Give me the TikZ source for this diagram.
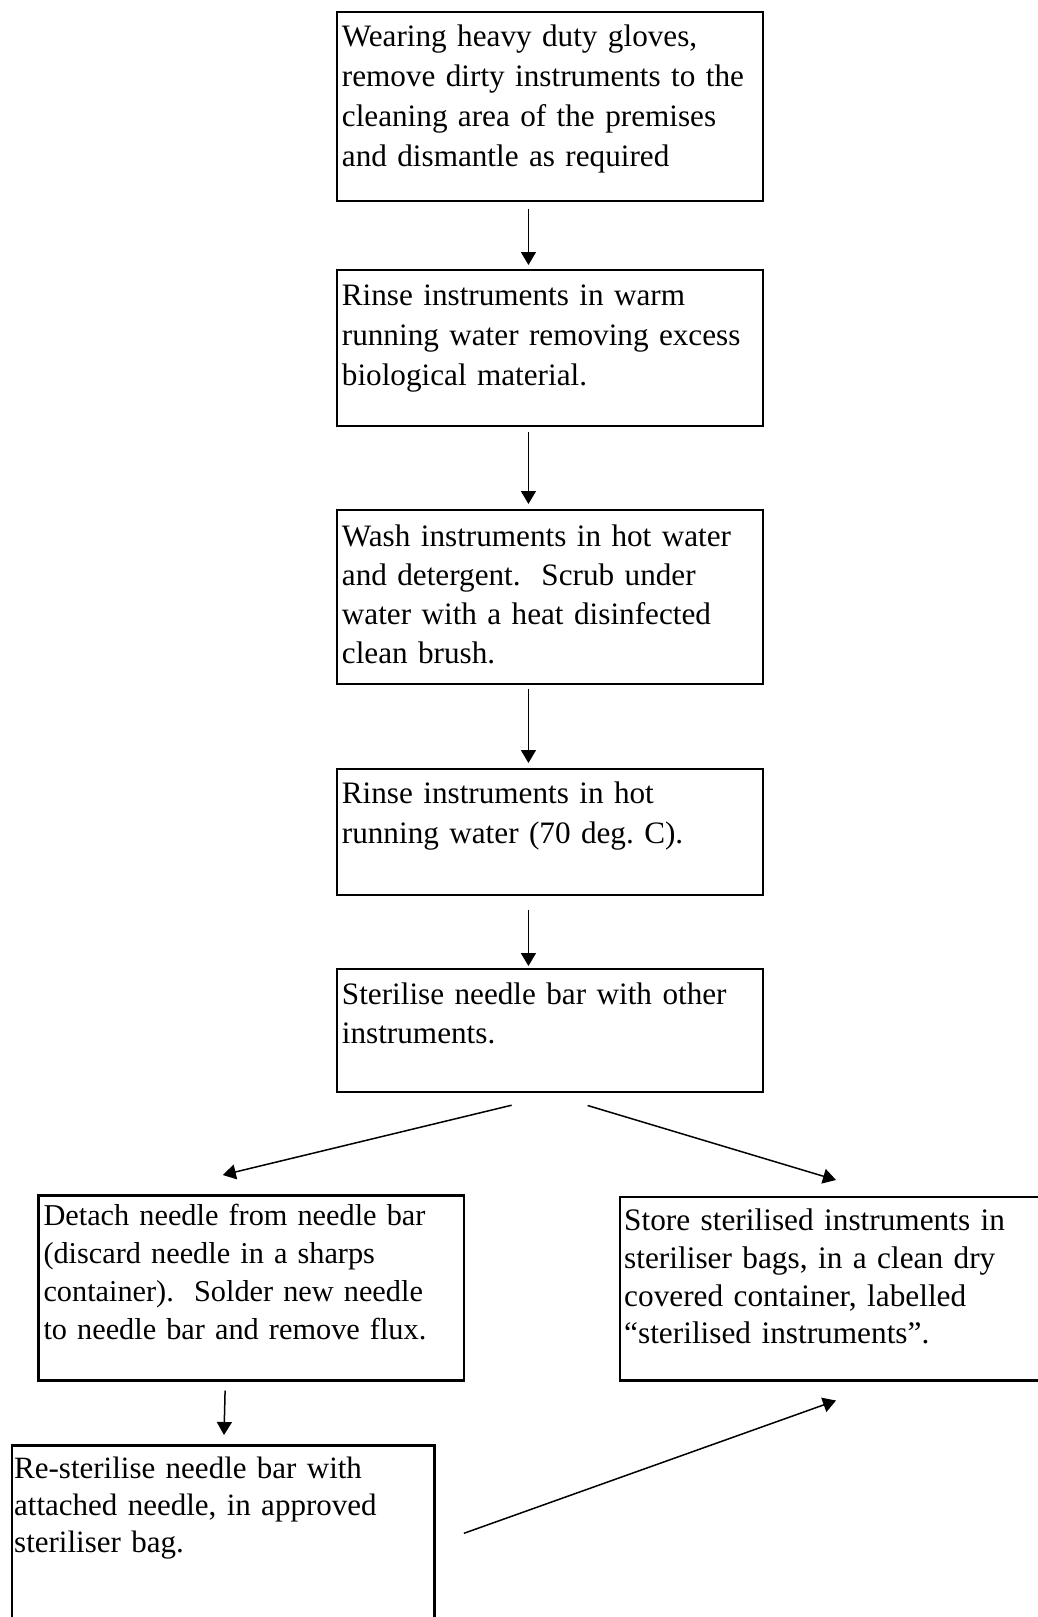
\documentclass[tikz,border=0pt]{standalone}
\usepackage{fontspec}
\setmainfont{Liberation Serif}
\usetikzlibrary{arrows.meta}
\frenchspacing
\tikzset{
  box/.style={draw=black, line width=2.2pt, inner sep=0pt, anchor=north west},
  txt/.style={inner sep=0pt, anchor=base west, text width=440pt, align=left},
  bigtxt/.style={txt, font=\fontsize{31.2}{40}\selectfont},
  smalltxt/.style={txt, font=\fontsize{30.8}{37.7}\selectfont},
  arr/.style={draw=black, line width=1.5pt, -{Triangle[length=13pt,width=15pt]}}
}
\begin{document}
\begin{tikzpicture}[x=1pt,y=-1pt]
\path[use as bounding box] (0,0) rectangle (1038,1617);
\fill[white] (0,0) rectangle (1038,1617);
\clip (0,0) rectangle (1038,1617);
% boxes
\node[box, minimum width=425.7pt, minimum height=189pt] (b1) at (336,11) {};
\node[box, minimum width=425.7pt, minimum height=156.3pt] (b2) at (336,268.7) {};
\node[box, minimum width=425.7pt, minimum height=174pt] (b3) at (336,509) {};
\node[box, minimum width=425.7pt, minimum height=126pt] (b4) at (336,768) {};
\node[box, minimum width=425.7pt, minimum height=123pt] (b5) at (336,968) {};
\node[box, minimum width=425.4pt, minimum height=185pt] (b6) at (37.3,1194.3) {};
\node[box, minimum width=422.3pt, minimum height=200pt] (b7) at (11,1444.3) {};
\node[box, minimum width=445pt, minimum height=183.3pt] (b8) at (619,1196) {};
% texts
\node[bigtxt] (t1) at (341.7,46.7) {Wearing heavy duty gloves,\\remove dirty instruments to the\\cleaning area of the premises\\and dismantle as required};
\node[bigtxt] (t2) at (341.7,305) {Rinse instruments in warm\\running water removing excess\\biological material.};
\node[bigtxt, font=\fontsize{31.2}{39}\selectfont] (t3) at (341.7,546.7) {Wash instruments in hot water\\and detergent.~~Scrub under\\water with a heat disinfected\\clean brush.};
\node[bigtxt] (t4) at (341.7,803.3) {Rinse instruments in hot\\running water (70 deg. C).};
\node[bigtxt, font=\fontsize{31.2}{39.3}\selectfont] (t5) at (341.7,1004) {Sterilise needle bar with other\\instruments.};
\node[smalltxt, font=\fontsize{30.3}{37.8}\selectfont] (t6) at (43.3,1225.7) {Detach needle from needle bar\\(discard needle in a sharps\\container).~~Solder new needle\\to needle bar and remove flux.};
\node[smalltxt, font=\fontsize{31}{37.2}\selectfont] (t7) at (14,1478.3) {Re-sterilise needle bar with\\attached needle, in approved\\steriliser bag.};
\node[smalltxt, font=\fontsize{31.3}{37.7}\selectfont] (t8) at (624,1230.7) {Store sterilised instruments in\\steriliser bags, in a clean dry\\covered container, labelled\\“sterilised instruments”.};
% connectors
\draw[arr] ([xshift=-21.5pt,yshift=-7pt]b1.south) -- ([xshift=-21.5pt,yshift=3.7pt]b2.north);
\draw[arr] ([xshift=-21.5pt,yshift=-5pt]b2.south) -- ([xshift=-21.5pt,yshift=5pt]b3.north);
\draw[arr] ([xshift=-21.5pt,yshift=-4pt]b3.south) -- ([xshift=-21.5pt,yshift=5pt]b4.north);
\draw[arr] ([xshift=-21.5pt,yshift=-14pt]b4.south) -- ([xshift=-21.5pt,yshift=2pt]b5.north);
\draw[arr] ([xshift=-38.3pt,yshift=-12pt]b5.south) -- ([xshift=-28.3pt,yshift=19.3pt]b6.north);
\draw[arr] ([xshift=37.7pt,yshift=-12.3pt]b5.south) -- ([xshift=217pt,yshift=16pt]b8.north west);
\draw[arr] ([xshift=-26pt,yshift=-9pt]b6.south) -- ([xshift=213pt,yshift=9.3pt]b7.north west);
\draw[arr] ([xshift=28.4pt,yshift=-89pt]b7.north east) -- ([xshift=217pt,yshift=-19pt]b8.south west);
\end{tikzpicture}
\end{document}
